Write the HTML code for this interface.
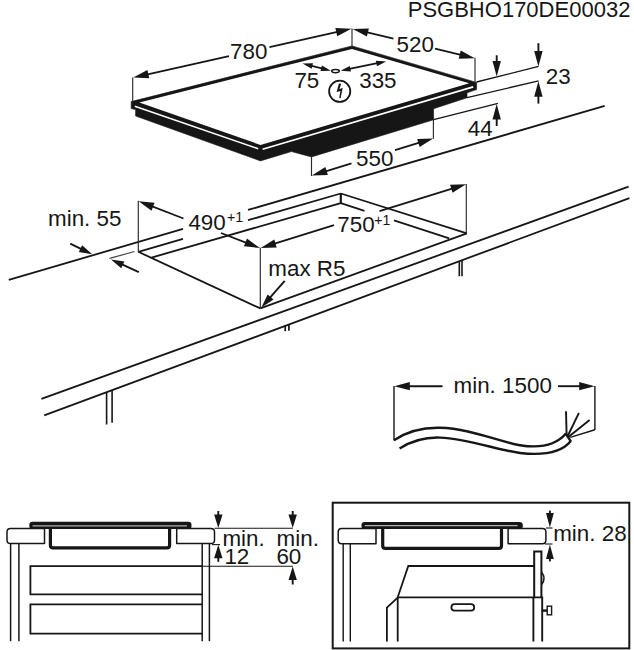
<!DOCTYPE html>
<html lang="en">
<head>
<meta charset="utf-8">
<title>PSGBHO170DE00032</title>
<style>
html,body{margin:0;padding:0;background:#fff;}
body{width:634px;height:650px;overflow:hidden;}
svg{display:block;}
text{font-family:"Liberation Sans",Arial,Helvetica,sans-serif;fill:#161616;}
</style>
</head>
<body>
<svg width="634" height="650" viewBox="0 0 634 650">
<rect x="0" y="0" width="634" height="650" fill="#fff"/>
<text transform="translate(407.70 17.10) scale(0.983 1)" font-size="22.4" text-anchor="start">PSGBHO170DE00032</text>
<polygon points="131.20,101.60 352.00,45.90 476.60,82.40 476.60,89.60 467.00,92.80 467.00,97.80 433.60,108.70 433.60,119.80 311.50,156.90 291.40,151.60 260.40,160.90 135.60,116.00 135.60,109.60 131.20,108.60" fill="#161616" stroke="#161616" stroke-width="0.6" stroke-linejoin="round"/>
<polygon points="139.34,102.55 352.00,48.90 469.21,83.23 260.50,144.90" fill="#fff" stroke="none" stroke-width="0" stroke-linejoin="miter"/>
<line x1="134.80" y1="106.30" x2="258.20" y2="148.70" stroke="#fff" stroke-width="1.5" stroke-linecap="butt"/>
<line x1="262.60" y1="149.30" x2="473.20" y2="86.90" stroke="#fff" stroke-width="1.7" stroke-linecap="butt"/>
<line x1="132.70" y1="77.60" x2="132.70" y2="102.00" stroke="#2a2a2a" stroke-width="1.15" stroke-linecap="butt"/>
<line x1="352.00" y1="28.40" x2="352.00" y2="47.00" stroke="#2a2a2a" stroke-width="1.15" stroke-linecap="butt"/>
<line x1="141.00" y1="75.76" x2="229.00" y2="56.07" stroke="#161616" stroke-width="1.8" stroke-linecap="butt"/>
<line x1="269.50" y1="47.02" x2="343.00" y2="30.58" stroke="#161616" stroke-width="1.8" stroke-linecap="butt"/>
<polygon points="133.20,77.50 147.41,70.02 149.24,78.22" fill="#161616" stroke="none" stroke-width="0" stroke-linejoin="miter"/>
<polygon points="351.40,28.70 337.19,36.18 335.36,27.98" fill="#161616" stroke="none" stroke-width="0" stroke-linejoin="miter"/>
<text transform="translate(230.00 59.00) scale(1.0 1)" font-size="22.4" text-anchor="start">780</text>
<line x1="475.00" y1="57.80" x2="475.00" y2="82.50" stroke="#2a2a2a" stroke-width="1.15" stroke-linecap="butt"/>
<line x1="361.00" y1="30.87" x2="393.50" y2="38.67" stroke="#161616" stroke-width="1.8" stroke-linecap="butt"/>
<line x1="435.00" y1="48.64" x2="466.00" y2="56.09" stroke="#161616" stroke-width="1.8" stroke-linecap="butt"/>
<polygon points="352.80,28.90 368.85,28.44 366.89,36.60" fill="#161616" stroke="none" stroke-width="0" stroke-linejoin="miter"/>
<polygon points="474.80,58.20 458.75,58.66 460.71,50.50" fill="#161616" stroke="none" stroke-width="0" stroke-linejoin="miter"/>
<text transform="translate(396.50 51.50) scale(1.0 1)" font-size="22.4" text-anchor="start">520</text>
<line x1="306.60" y1="64.60" x2="326.90" y2="69.70" stroke="#161616" stroke-width="1.8" stroke-linecap="butt"/>
<polygon points="302.60,63.60 312.98,63.32 311.62,68.75" fill="#161616" stroke="none" stroke-width="0" stroke-linejoin="miter"/>
<polygon points="330.90,70.70 320.52,70.98 321.88,65.55" fill="#161616" stroke="none" stroke-width="0" stroke-linejoin="miter"/>
<line x1="344.60" y1="69.90" x2="382.20" y2="62.20" stroke="#161616" stroke-width="1.8" stroke-linecap="butt"/>
<polygon points="340.60,70.70 349.84,65.96 350.96,71.45" fill="#161616" stroke="none" stroke-width="0" stroke-linejoin="miter"/>
<polygon points="386.20,61.40 376.96,66.14 375.84,60.65" fill="#161616" stroke="none" stroke-width="0" stroke-linejoin="miter"/>
<ellipse cx="335.5" cy="71.1" rx="3.8" ry="1.6" fill="#fff" stroke="#161616" stroke-width="1.5"/>
<text transform="translate(294.40 88.00) scale(1.0 1)" font-size="22.4" text-anchor="start">75</text>
<text transform="translate(359.20 88.00) scale(1.0 1)" font-size="22.4" text-anchor="start">335</text>
<circle cx="339.7" cy="91.3" r="10.6" fill="none" stroke="#161616" stroke-width="1.8"/>
<polygon points="338.90,83.40 341.20,83.70 339.30,89.30 342.70,87.80 340.60,98.20 339.20,97.90 340.40,91.00 336.60,92.10" fill="#161616" stroke="none" stroke-width="0" stroke-linejoin="miter"/>
<line x1="311.50" y1="156.00" x2="311.50" y2="176.00" stroke="#2a2a2a" stroke-width="1.15" stroke-linecap="butt"/>
<line x1="433.40" y1="119.00" x2="433.40" y2="138.80" stroke="#2a2a2a" stroke-width="1.15" stroke-linecap="butt"/>
<line x1="320.00" y1="173.09" x2="351.50" y2="163.43" stroke="#161616" stroke-width="1.8" stroke-linecap="butt"/>
<line x1="395.00" y1="150.11" x2="425.00" y2="140.91" stroke="#161616" stroke-width="1.8" stroke-linecap="butt"/>
<polygon points="311.80,175.60 325.39,167.04 327.85,175.07" fill="#161616" stroke="none" stroke-width="0" stroke-linejoin="miter"/>
<polygon points="433.20,138.40 419.61,146.96 417.15,138.93" fill="#161616" stroke="none" stroke-width="0" stroke-linejoin="miter"/>
<text transform="translate(356.00 166.00) scale(1.0 1)" font-size="22.4" text-anchor="start">550</text>
<line x1="476.50" y1="82.00" x2="538.60" y2="66.40" stroke="#161616" stroke-width="1.3" stroke-linecap="butt"/>
<line x1="467.00" y1="97.60" x2="538.60" y2="80.90" stroke="#161616" stroke-width="1.3" stroke-linecap="butt"/>
<line x1="433.60" y1="119.60" x2="498.00" y2="103.40" stroke="#161616" stroke-width="1.3" stroke-linecap="butt"/>
<line x1="496.70" y1="55.30" x2="496.70" y2="65.75" stroke="#161616" stroke-width="1.9" stroke-linecap="butt"/>
<polygon points="496.70,76.60 492.50,61.10 500.90,61.10" fill="#161616" stroke="none" stroke-width="0" stroke-linejoin="miter"/>
<line x1="538.40" y1="43.20" x2="538.40" y2="55.55" stroke="#161616" stroke-width="1.9" stroke-linecap="butt"/>
<polygon points="538.40,66.40 534.20,50.90 542.60,50.90" fill="#161616" stroke="none" stroke-width="0" stroke-linejoin="miter"/>
<line x1="538.40" y1="103.60" x2="538.40" y2="92.05" stroke="#161616" stroke-width="1.9" stroke-linecap="butt"/>
<polygon points="538.40,81.20 542.60,96.70 534.20,96.70" fill="#161616" stroke="none" stroke-width="0" stroke-linejoin="miter"/>
<line x1="496.70" y1="126.00" x2="496.70" y2="114.85" stroke="#161616" stroke-width="1.9" stroke-linecap="butt"/>
<polygon points="496.70,104.00 500.90,119.50 492.50,119.50" fill="#161616" stroke="none" stroke-width="0" stroke-linejoin="miter"/>
<text transform="translate(545.80 84.00) scale(1.0 1)" font-size="22.4" text-anchor="start">23</text>
<text transform="translate(467.80 136.00) scale(1.0 1)" font-size="22.4" text-anchor="start">44</text>
<line x1="8.80" y1="279.80" x2="183.00" y2="228.93" stroke="#161616" stroke-width="1.8" stroke-linecap="butt"/>
<line x1="248.00" y1="209.95" x2="604.70" y2="105.80" stroke="#161616" stroke-width="1.8" stroke-linecap="butt"/>
<line x1="138.30" y1="251.80" x2="183.00" y2="238.93" stroke="#161616" stroke-width="1.8" stroke-linecap="butt"/>
<line x1="248.00" y1="220.22" x2="340.80" y2="193.50" stroke="#161616" stroke-width="1.8" stroke-linecap="butt"/>
<line x1="151.50" y1="257.60" x2="340.80" y2="203.10" stroke="#161616" stroke-width="1.8" stroke-linecap="butt"/>
<line x1="340.80" y1="193.00" x2="340.80" y2="203.60" stroke="#161616" stroke-width="2.2" stroke-linecap="butt"/>
<line x1="138.30" y1="251.80" x2="260.30" y2="308.40" stroke="#161616" stroke-width="1.8" stroke-linecap="butt"/>
<line x1="340.80" y1="193.50" x2="466.90" y2="233.30" stroke="#161616" stroke-width="1.8" stroke-linecap="butt"/>
<line x1="340.80" y1="203.10" x2="364.50" y2="210.82" stroke="#161616" stroke-width="1.8" stroke-linecap="butt"/>
<line x1="394.00" y1="220.42" x2="449.20" y2="238.40" stroke="#161616" stroke-width="1.8" stroke-linecap="butt"/>
<line x1="260.30" y1="308.40" x2="466.90" y2="233.30" stroke="#161616" stroke-width="1.8" stroke-linecap="butt"/>
<line x1="41.40" y1="398.80" x2="628.60" y2="186.60" stroke="#161616" stroke-width="1.8" stroke-linecap="butt"/>
<line x1="44.20" y1="415.30" x2="629.40" y2="198.10" stroke="#161616" stroke-width="1.8" stroke-linecap="butt"/>
<line x1="106.60" y1="392.00" x2="106.60" y2="424.50" stroke="#161616" stroke-width="1.6" stroke-linecap="butt"/>
<line x1="112.10" y1="390.00" x2="112.10" y2="422.80" stroke="#161616" stroke-width="1.6" stroke-linecap="butt"/>
<line x1="285.20" y1="325.60" x2="285.20" y2="331.20" stroke="#161616" stroke-width="1.7" stroke-linecap="butt"/>
<line x1="288.90" y1="324.40" x2="288.90" y2="330.80" stroke="#161616" stroke-width="1.7" stroke-linecap="butt"/>
<line x1="459.30" y1="261.00" x2="459.30" y2="276.20" stroke="#161616" stroke-width="1.6" stroke-linecap="butt"/>
<line x1="462.00" y1="260.00" x2="462.00" y2="276.20" stroke="#161616" stroke-width="1.6" stroke-linecap="butt"/>
<line x1="138.30" y1="200.70" x2="138.30" y2="252.00" stroke="#2a2a2a" stroke-width="1.15" stroke-linecap="butt"/>
<line x1="260.30" y1="247.80" x2="260.30" y2="308.40" stroke="#2a2a2a" stroke-width="1.15" stroke-linecap="butt"/>
<line x1="466.30" y1="184.00" x2="466.30" y2="233.30" stroke="#2a2a2a" stroke-width="1.15" stroke-linecap="butt"/>
<line x1="147.00" y1="204.44" x2="183.50" y2="218.52" stroke="#161616" stroke-width="1.8" stroke-linecap="butt"/>
<line x1="221.00" y1="232.99" x2="251.00" y2="244.57" stroke="#161616" stroke-width="1.8" stroke-linecap="butt"/>
<polygon points="138.60,201.20 154.57,202.86 151.55,210.70" fill="#161616" stroke="none" stroke-width="0" stroke-linejoin="miter"/>
<polygon points="259.90,248.00 243.93,246.34 246.95,238.50" fill="#161616" stroke="none" stroke-width="0" stroke-linejoin="miter"/>
<text transform="translate(188.40 230.30) scale(1.0 1)" font-size="22.4" text-anchor="start">490</text>
<text transform="translate(227.00 222.20) scale(1.0 1)" font-size="14.2" text-anchor="start">+1</text>
<line x1="269.00" y1="245.42" x2="334.00" y2="225.23" stroke="#161616" stroke-width="1.8" stroke-linecap="butt"/>
<line x1="379.50" y1="211.10" x2="457.00" y2="187.03" stroke="#161616" stroke-width="1.8" stroke-linecap="butt"/>
<polygon points="260.70,248.00 274.26,239.39 276.75,247.41" fill="#161616" stroke="none" stroke-width="0" stroke-linejoin="miter"/>
<polygon points="466.10,184.20 452.54,192.81 450.05,184.79" fill="#161616" stroke="none" stroke-width="0" stroke-linejoin="miter"/>
<text transform="translate(337.30 232.00) scale(1.0 1)" font-size="22.4" text-anchor="start">750</text>
<text transform="translate(374.20 224.80) scale(1.0 1)" font-size="14.2" text-anchor="start">+1</text>
<text transform="translate(268.30 276.00) scale(1.0 1)" font-size="22.4" text-anchor="start">max R5</text>
<line x1="284.70" y1="280.80" x2="267.83" y2="300.20" stroke="#161616" stroke-width="1.9" stroke-linecap="butt"/>
<polygon points="261.40,307.60 267.64,294.48 273.53,299.59" fill="#161616" stroke="none" stroke-width="0" stroke-linejoin="miter"/>
<text transform="translate(48.00 226.00) scale(1.0 1)" font-size="22.4" text-anchor="start">min. 55</text>
<line x1="70.20" y1="243.70" x2="83.99" y2="250.28" stroke="#161616" stroke-width="1.9" stroke-linecap="butt"/>
<polygon points="92.20,254.20 78.83,252.03 82.10,245.17" fill="#161616" stroke="none" stroke-width="0" stroke-linejoin="miter"/>
<line x1="109.60" y1="258.40" x2="134.50" y2="251.50" stroke="#444" stroke-width="1.2" stroke-linecap="butt"/>
<line x1="138.80" y1="272.20" x2="119.27" y2="263.21" stroke="#161616" stroke-width="1.9" stroke-linecap="butt"/>
<polygon points="111.00,259.40 124.40,261.39 121.22,268.29" fill="#161616" stroke="none" stroke-width="0" stroke-linejoin="miter"/>
<line x1="394.00" y1="386.00" x2="394.00" y2="440.50" stroke="#161616" stroke-width="1.4" stroke-linecap="butt"/>
<line x1="594.90" y1="386.00" x2="594.90" y2="430.00" stroke="#161616" stroke-width="1.4" stroke-linecap="butt"/>
<line x1="442.50" y1="386.20" x2="405.15" y2="386.20" stroke="#161616" stroke-width="1.9" stroke-linecap="butt"/>
<polygon points="394.30,386.20 409.80,382.10 409.80,390.30" fill="#161616" stroke="none" stroke-width="0" stroke-linejoin="miter"/>
<line x1="558.00" y1="386.20" x2="583.85" y2="386.20" stroke="#161616" stroke-width="1.9" stroke-linecap="butt"/>
<polygon points="594.70,386.20 579.20,390.30 579.20,382.10" fill="#161616" stroke="none" stroke-width="0" stroke-linejoin="miter"/>
<text transform="translate(453.50 393.20) scale(1.0 1)" font-size="22.4" text-anchor="start">min. 1500</text>
<path d="M394.0,440.2 C408,431 424,427.4 440,427.8 C470,428.6 497,441 520,445.2 C542,448.8 556,445 565.8,433.8" fill="none" stroke="#161616" stroke-width="2.4" stroke-linejoin="round" stroke-linecap="butt"/>
<path d="M399.6,448.6 C412,440.5 426,437.2 440,437.6 C468,438.6 497,450 520,453.0 C545,455.8 562,452 570.8,441.0" fill="none" stroke="#161616" stroke-width="2.4" stroke-linejoin="round" stroke-linecap="butt"/>
<line x1="565.40" y1="433.00" x2="571.00" y2="441.60" stroke="#161616" stroke-width="2.4" stroke-linecap="butt"/>
<line x1="566.00" y1="411.30" x2="566.60" y2="434.50" stroke="#161616" stroke-width="1.9" stroke-linecap="butt"/>
<line x1="578.90" y1="412.90" x2="568.00" y2="435.50" stroke="#161616" stroke-width="1.9" stroke-linecap="butt"/>
<line x1="589.60" y1="419.90" x2="569.00" y2="436.50" stroke="#161616" stroke-width="1.9" stroke-linecap="butt"/>
<line x1="594.90" y1="429.80" x2="570.20" y2="437.40" stroke="#161616" stroke-width="1.5" stroke-linecap="butt"/>
<rect x="29.3" y="521.7" width="162.2" height="7.4" rx="3.2" fill="#161616"/>
<line x1="32.50" y1="525.80" x2="187.00" y2="525.80" stroke="#b0b0b0" stroke-width="1.3" stroke-linecap="butt"/>
<path d="M44.5,528.4 H10.5 Q7,528.4 7,532 V540 Q7,543.6 10.5,543.6 H44.5 Z" fill="#fff" stroke="#161616" stroke-width="1.5" stroke-linejoin="round" stroke-linecap="butt"/>
<path d="M176.7,528.4 H211 Q214.5,528.4 214.5,532 V540 Q214.5,543.6 211,543.6 H176.7 Z" fill="#fff" stroke="#161616" stroke-width="1.5" stroke-linejoin="round" stroke-linecap="butt"/>
<path d="M50.4,528.4 V545.2 Q50.4,547.8 53,547.8 H167.0 Q169.6,547.8 169.6,545.2 V528.4" fill="none" stroke="#161616" stroke-width="3.2" stroke-linejoin="round" stroke-linecap="butt"/>
<line x1="10.60" y1="543.60" x2="10.60" y2="641.20" stroke="#161616" stroke-width="1.5" stroke-linecap="butt"/>
<line x1="18.90" y1="543.60" x2="18.90" y2="641.20" stroke="#161616" stroke-width="1.5" stroke-linecap="butt"/>
<line x1="202.20" y1="543.60" x2="202.20" y2="641.20" stroke="#161616" stroke-width="1.5" stroke-linecap="butt"/>
<line x1="209.40" y1="543.60" x2="209.40" y2="641.20" stroke="#161616" stroke-width="1.5" stroke-linecap="butt"/>
<polyline points="202.20,566.20 30.40,566.20 30.40,594.30 202.20,594.30" fill="none" stroke="#161616" stroke-width="1.8" stroke-linejoin="miter" stroke-linecap="butt"/>
<polyline points="202.20,604.40 30.40,604.40 30.40,633.60 202.20,633.60" fill="none" stroke="#161616" stroke-width="1.8" stroke-linejoin="miter" stroke-linecap="butt"/>
<line x1="214.50" y1="528.20" x2="292.80" y2="528.20" stroke="#161616" stroke-width="1.1" stroke-linecap="butt"/>
<line x1="202.20" y1="566.20" x2="292.80" y2="566.20" stroke="#161616" stroke-width="1.1" stroke-linecap="butt"/>
<line x1="212.00" y1="544.60" x2="220.00" y2="544.60" stroke="#161616" stroke-width="1.1" stroke-linecap="butt"/>
<line x1="218.30" y1="511.00" x2="218.30" y2="518.55" stroke="#161616" stroke-width="1.9" stroke-linecap="butt"/>
<polygon points="218.30,528.00 214.10,514.50 222.50,514.50" fill="#161616" stroke="none" stroke-width="0" stroke-linejoin="miter"/>
<line x1="292.70" y1="511.00" x2="292.70" y2="518.55" stroke="#161616" stroke-width="1.9" stroke-linecap="butt"/>
<polygon points="292.70,528.00 288.50,514.50 296.90,514.50" fill="#161616" stroke="none" stroke-width="0" stroke-linejoin="miter"/>
<line x1="218.30" y1="561.80" x2="218.30" y2="554.25" stroke="#161616" stroke-width="1.9" stroke-linecap="butt"/>
<polygon points="218.30,544.80 222.50,558.30 214.10,558.30" fill="#161616" stroke="none" stroke-width="0" stroke-linejoin="miter"/>
<line x1="292.70" y1="584.50" x2="292.70" y2="575.85" stroke="#161616" stroke-width="1.9" stroke-linecap="butt"/>
<polygon points="292.70,566.40 296.90,579.90 288.50,579.90" fill="#161616" stroke="none" stroke-width="0" stroke-linejoin="miter"/>
<text transform="translate(222.40 545.50) scale(1.0 1)" font-size="22.4" text-anchor="start">min.</text>
<text transform="translate(224.40 563.60) scale(1.0 1)" font-size="22.4" text-anchor="start">12</text>
<text transform="translate(276.60 545.50) scale(1.0 1)" font-size="22.4" text-anchor="start">min.</text>
<text transform="translate(276.40 563.60) scale(1.0 1)" font-size="22.4" text-anchor="start">60</text>
<rect x="332.7" y="502.7" width="296.6" height="145.7" fill="none" stroke="#161616" stroke-width="2"/>
<rect x="361.5" y="521.9" width="161.3" height="7.2" rx="3.2" fill="#161616"/>
<line x1="364.70" y1="525.70" x2="517.60" y2="525.70" stroke="#b0b0b0" stroke-width="1.3" stroke-linecap="butt"/>
<path d="M376,528.5 H341.7 Q338.2,528.5 338.2,532 V540.3 Q338.2,543.8 341.7,543.8 H376 Z" fill="#fff" stroke="#161616" stroke-width="1.5" stroke-linejoin="round" stroke-linecap="butt"/>
<path d="M508.1,528.5 H542.4 Q545.9,528.5 545.9,532 V540.3 Q545.9,543.8 542.4,543.8 H508.1 Z" fill="#fff" stroke="#161616" stroke-width="1.5" stroke-linejoin="round" stroke-linecap="butt"/>
<path d="M382.7,528.5 V545.7 Q382.7,548.3 385.3,548.3 H498.9 Q501.5,548.3 501.5,545.7 V528.5" fill="none" stroke="#161616" stroke-width="3.2" stroke-linejoin="round" stroke-linecap="butt"/>
<line x1="343.20" y1="543.80" x2="343.20" y2="641.50" stroke="#161616" stroke-width="1.4" stroke-linecap="butt"/>
<line x1="350.30" y1="543.80" x2="350.30" y2="641.50" stroke="#161616" stroke-width="1.4" stroke-linecap="butt"/>
<polyline points="534.20,566.00 408.30,566.00 397.70,597.30 397.70,641.50" fill="none" stroke="#161616" stroke-width="1.8" stroke-linejoin="miter" stroke-linecap="butt"/>
<line x1="397.70" y1="597.30" x2="543.10" y2="597.30" stroke="#161616" stroke-width="1.8" stroke-linecap="butt"/>
<polyline points="397.70,597.60 386.90,607.60 386.90,641.50" fill="none" stroke="#161616" stroke-width="1.8" stroke-linejoin="miter" stroke-linecap="butt"/>
<rect x="451.4" y="604.2" width="22.8" height="6.4" rx="3.2" fill="none" stroke="#161616" stroke-width="1.8"/>
<polyline points="534.20,597.30 534.20,551.60 541.40,551.60 541.40,597.30" fill="none" stroke="#161616" stroke-width="2.0" stroke-linejoin="miter" stroke-linecap="butt"/>
<line x1="533.40" y1="597.30" x2="533.40" y2="641.50" stroke="#161616" stroke-width="1.9" stroke-linecap="butt"/>
<line x1="542.20" y1="597.30" x2="542.20" y2="641.50" stroke="#161616" stroke-width="1.9" stroke-linecap="butt"/>
<path d="M541.6,572.2 Q546.6,578.4 541.6,584.6" fill="none" stroke="#161616" stroke-width="1.5" stroke-linejoin="round" stroke-linecap="butt"/>
<line x1="541.60" y1="610.60" x2="547.20" y2="610.60" stroke="#161616" stroke-width="2.4" stroke-linecap="butt"/>
<rect x="547.2" y="606.2" width="4.4" height="8.6" fill="none" stroke="#161616" stroke-width="1.4"/>
<line x1="549.90" y1="510.60" x2="549.90" y2="517.45" stroke="#161616" stroke-width="1.9" stroke-linecap="butt"/>
<polygon points="549.90,527.60 546.00,513.10 553.80,513.10" fill="#161616" stroke="none" stroke-width="0" stroke-linejoin="miter"/>
<line x1="549.90" y1="561.40" x2="549.90" y2="554.55" stroke="#161616" stroke-width="1.9" stroke-linecap="butt"/>
<polygon points="549.90,544.40 553.80,558.90 546.00,558.90" fill="#161616" stroke="none" stroke-width="0" stroke-linejoin="miter"/>
<line x1="545.90" y1="528.00" x2="552.50" y2="528.00" stroke="#161616" stroke-width="1.1" stroke-linecap="butt"/>
<line x1="545.00" y1="544.00" x2="552.50" y2="544.00" stroke="#161616" stroke-width="1.1" stroke-linecap="butt"/>
<text transform="translate(553.20 540.50) scale(1.0 1)" font-size="22.4" text-anchor="start">min. 28</text>
</svg>
</body>
</html>
